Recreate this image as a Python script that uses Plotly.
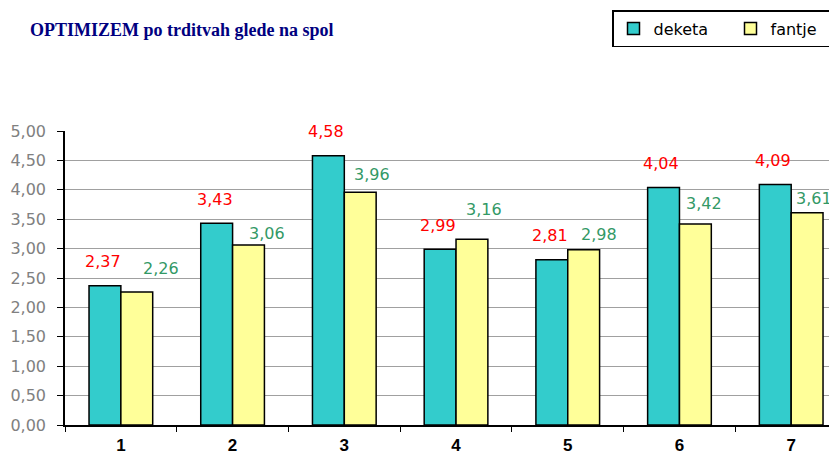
import plotly.graph_objs as go

categories = ['1', '2', '3', '4', '5', '6', '7']
deketa = [2.37, 3.43, 4.58, 2.99, 2.81, 4.04, 4.09]
fantje = [2.26, 3.06, 3.96, 3.16, 2.98, 3.42, 3.61]
y_ticks = [0, 0.5, 1, 1.5, 2, 2.5, 3, 3.5, 4, 4.5, 5]

# the green labels were hand-placed in the original; pixel nudges (right, up)
fantje_nudge_x = [24, 18, 12, 12, 15, 9, 7]
fantje_nudge_y = [24, 12, 18, 30, 15, 20, 14]

# page body has an 8px margin, so the figure is sized to the visible area
W, H = 829, 455
LABEL_FONT = 'DejaVu Sans, Verdana, sans-serif'


def fmt(v):
    return f'{v:.2f}'.replace('.', ',')


fig = go.Figure()
fig.add_trace(go.Bar(x=categories, y=deketa, name='deketa',
                     marker=dict(color='#33CCCC', line=dict(color='black', width=1.5))))
fig.add_trace(go.Bar(x=categories, y=fantje, name='fantje',
                     marker=dict(color='#FFFF99', line=dict(color='black', width=1.5))))

# data labels, Excel style (annotations on a category axis take the index)
for i, v in enumerate(deketa):
    fig.add_annotation(x=i, y=v, text=fmt(v), showarrow=False, xshift=-18, yshift=24,
                       font=dict(family=LABEL_FONT, size=16, color='#FF0000'))
for i, v in enumerate(fantje):
    fig.add_annotation(x=i, y=v, text=fmt(v), showarrow=False,
                       xshift=16 + fantje_nudge_x[i], yshift=fantje_nudge_y[i],
                       font=dict(family=LABEL_FONT, size=16, color='#339966'))

fig.update_layout(
    width=W, height=H,
    margin=dict(l=57, r=0, t=123, b=38),
    barmode='group', bargap=0.43, bargroupgap=0,
    plot_bgcolor='white', paper_bgcolor='white',
    separators=', ',
    title=dict(text='<b>OPTIMIZEM po trditvah glede na spol</b>',
               x=22 / W, xanchor='left', y=1 - 22 / H, yanchor='middle',
               xref='container', yref='container',
               font=dict(family='Liberation Serif, Times New Roman', size=18, color='#000080')),
    legend=dict(orientation='h', xref='container', yref='container',
                x=604 / W, xanchor='left', y=1 - 2 / H, yanchor='top',
                bordercolor='black', borderwidth=1.5, bgcolor='white',
                font=dict(family=LABEL_FONT, size=16, color='black'),
                entrywidth=72, traceorder='normal'),
    xaxis=dict(type='category', range=[-0.5, 6.41], showline=True, linecolor='black',
               linewidth=1.5, ticks='outside', tickson='boundaries', ticklen=5,
               tickcolor='black', showgrid=False, ticklabelstandoff=4, automargin=False,
               tickfont=dict(family='Liberation Sans, Arial', size=17, color='black', weight='bold')),
    yaxis=dict(range=[0, 5], tickvals=y_ticks, tickformat='.2f', showline=True,
               linecolor='black', linewidth=1.5, ticks='outside', ticklen=6,
               tickcolor='black', showgrid=True, gridcolor='#A0A0A0', gridwidth=1,
               zeroline=False, ticklabelstandoff=8, automargin=False,
               tickfont=dict(family=LABEL_FONT, size=16, color='#808080')),
)

fig.write_html("out.html")
